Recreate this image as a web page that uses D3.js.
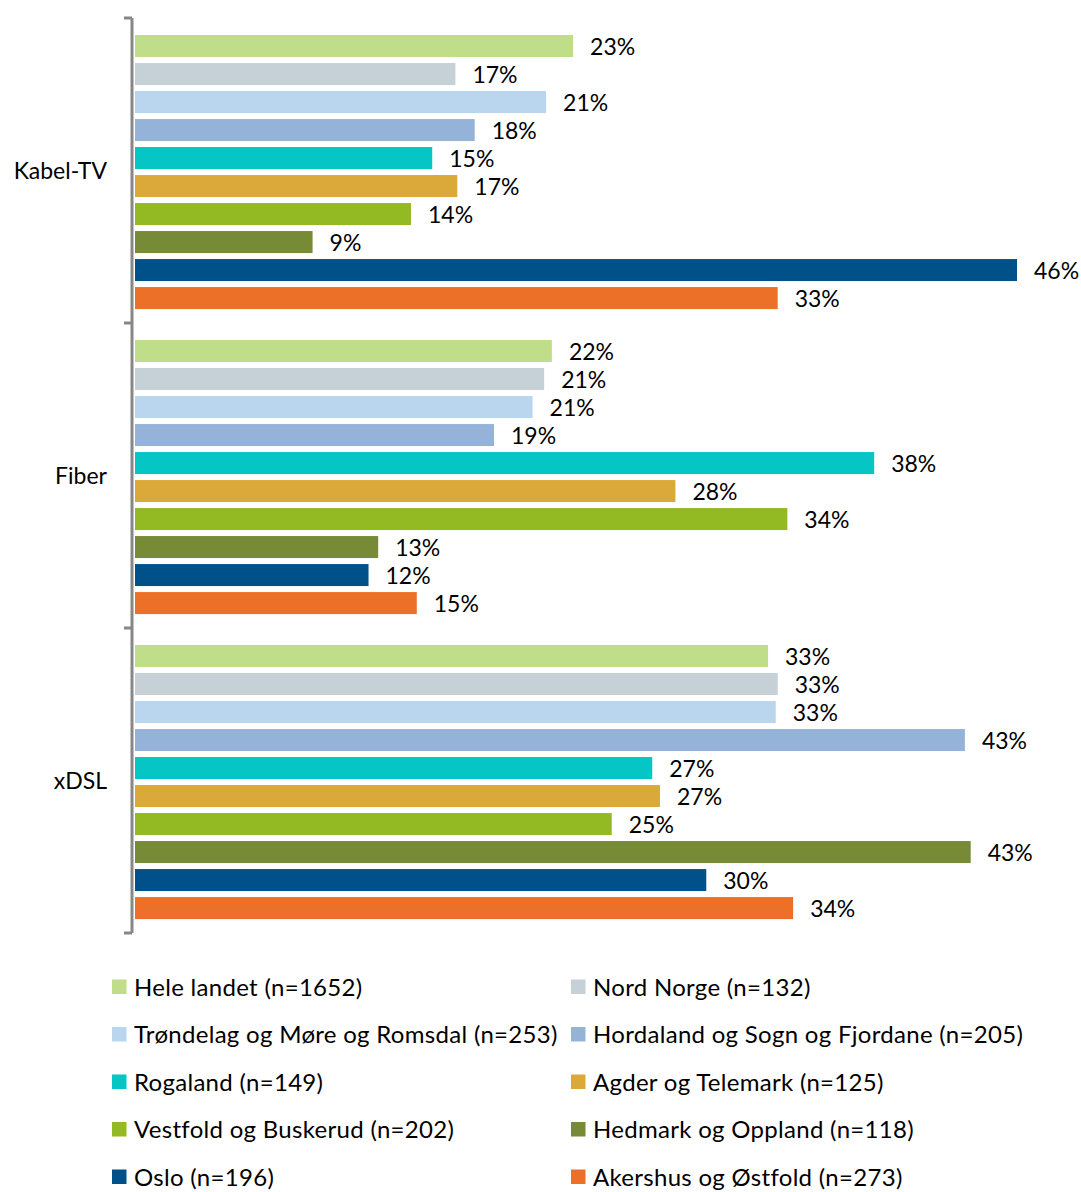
<!DOCTYPE html>
<html>
<head>
<meta charset="utf-8">
<script src="https://cdn.jsdelivr.net/npm/d3@7"></script>
<style>
  html, body { margin: 0; padding: 0; background: #ffffff; }
  svg { display: block; font-family: Lato, "Open Sans", sans-serif; }
</style>
</head>
<body>
<svg id="chart" width="1081" height="1192"></svg>
<script>
// ---- data ----
const groups = ["Kabel-TV", "Fiber", "xDSL"];
const series = [
  "Hele landet (n=1652)",
  "Nord Norge (n=132)",
  "Trøndelag og Møre og Romsdal (n=253)",
  "Hordaland og Sogn og Fjordane (n=205)",
  "Rogaland (n=149)",
  "Agder og Telemark (n=125)",
  "Vestfold og Buskerud (n=202)",
  "Hedmark og Oppland (n=118)",
  "Oslo (n=196)",
  "Akershus og Østfold (n=273)"
];
const kabelTV = [22.7, 16.6, 21.3, 17.6, 15.4, 16.7, 14.3, 9.2, 45.7, 33.3];
const fiber   = [21.6, 21.2, 20.6, 18.6, 38.3, 28.0, 33.8, 12.6, 12.1, 14.6];
const xdsl    = [32.8, 33.3, 33.2, 43.0, 26.8, 27.2, 24.7, 43.3, 29.6, 34.1];
const colors = ["#c0dd8a", "#c5d0d7", "#b9d6ee", "#95b3d8", "#05c6c4",
                "#dba93a", "#93b923", "#778a35", "#00508a", "#ec7028"];

const values = { "Kabel-TV": kabelTV, "Fiber": fiber, "xDSL": xdsl };

const svg = d3.select("#chart");

// ---- scales ----
const x = d3.scaleLinear().domain([0, 50]).range([135, 1100]);
const y0 = d3.scaleBand().domain(groups).range([18, 933]).padding(0);
const y1 = d3.scaleBand().domain(series).range([0, y0.bandwidth()])
  .paddingInner(6 / 28).paddingOuter(0.553).align(0.55);
const color = d3.scaleOrdinal().domain(series).range(colors);

// ---- bars ----
const g = svg.append("g");
groups.forEach(grp => {
  const gg = g.append("g").attr("transform", `translate(0,${y0(grp)})`);
  const rows = series.map((s, i) => ({ s, v: values[grp][i] }));
  gg.selectAll("rect").data(rows).join("rect")
    .attr("x", x(0))
    .attr("y", d => y1(d.s))
    .attr("width", d => x(d.v) - x(0))
    .attr("height", y1.bandwidth())
    .attr("fill", d => color(d.s));
  gg.selectAll("text").data(rows).join("text")
    .attr("x", d => x(d.v) + 17)
    .attr("y", d => y1(d.s) + y1.bandwidth() / 2)
    .attr("dy", "0.4em")
    .attr("font-size", 23)
    .attr("fill", "#000")
    .text(d => Math.round(d.v) + "%");
});

// ---- category axis (bracket style) ----
const axisX = 132;
const ax = svg.append("g");
ax.append("line")
  .attr("x1", axisX).attr("x2", axisX)
  .attr("y1", y0.range()[0]).attr("y2", y0.range()[1])
  .attr("stroke", "#878787").attr("stroke-width", 3);
const bounds = groups.map(gp => y0(gp)).concat([y0.range()[1]]);
ax.selectAll("line.tick").data(bounds).join("line")
  .attr("class", "tick")
  .attr("x1", axisX - 8).attr("x2", axisX)
  .attr("y1", d => d).attr("y2", d => d)
  .attr("stroke", "#878787").attr("stroke-width", 3);
ax.selectAll("text").data(groups).join("text")
  .attr("x", 107)
  .attr("y", d => y0(d) + y0.bandwidth() / 2)
  .attr("dy", "0.38em")
  .attr("text-anchor", "end")
  .attr("font-size", 23)
  .attr("fill", "#000")
  .text(d => d);

// ---- legend ----
const legend = svg.append("g");
const colX = [112, 571];
series.forEach((s, i) => {
  const col = i % 2, row = Math.floor(i / 2);
  const cy = 987 + row * 47.5;
  const lg = legend.append("g").attr("transform", `translate(${colX[col]},${cy})`);
  lg.append("rect").attr("x", 0).attr("y", -7.5).attr("width", 14.5).attr("height", 14.5)
    .attr("fill", color(s));
  lg.append("text").attr("x", 22).attr("dy", "0.36em")
    .attr("font-size", 24).attr("letter-spacing", 0.3)
    .attr("fill", "#000").text(s);
});
</script>
</body>
</html>
